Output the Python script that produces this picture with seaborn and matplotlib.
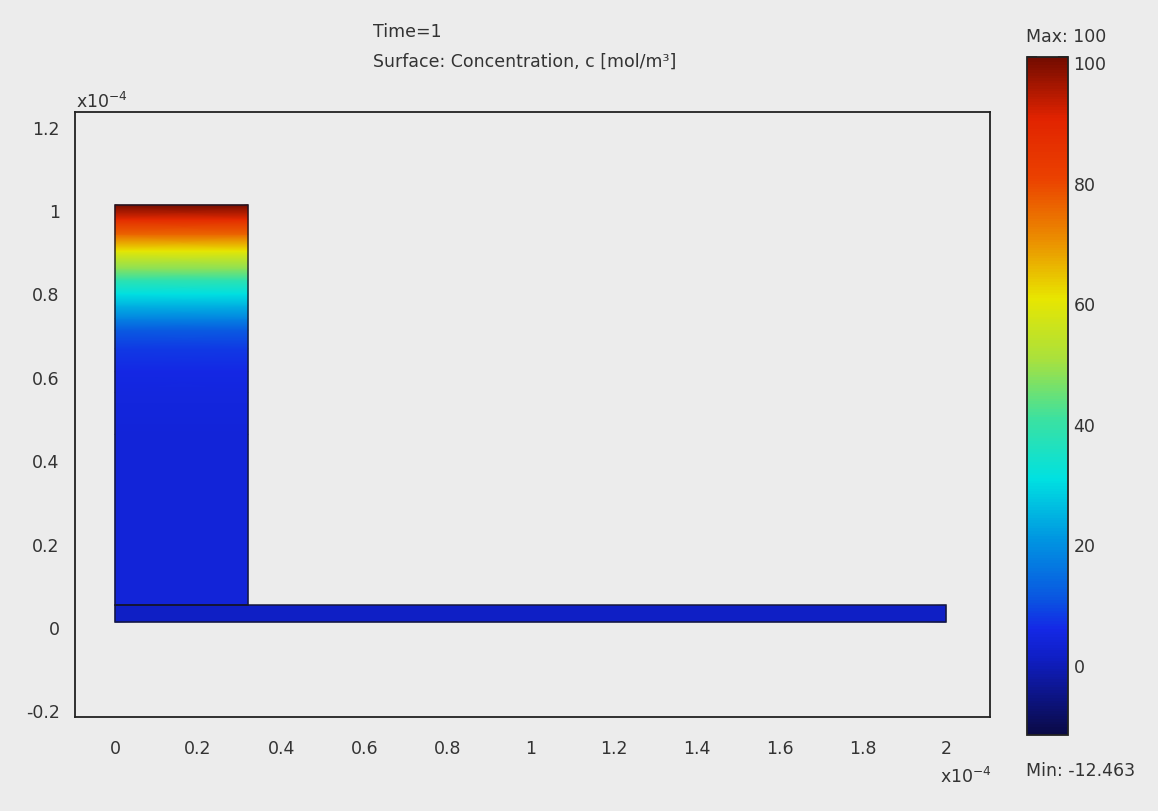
import numpy as np
import matplotlib
matplotlib.use("Agg")
import matplotlib.pyplot as plt
import matplotlib.transforms as mtransforms
from matplotlib.colors import Normalize, LinearSegmentedColormap
from matplotlib.patches import Rectangle
import seaborn as sns

# ---------------- data (lengths in units of 1e-4 m) ----------------
reservoir_x = [0.0, 0.32]
channel_x = [0.0, 2.0]
channel_y = [0.0, 0.04]
profile_y = [0.04, 0.45, 0.55, 0.60, 0.655, 0.70, 0.727, 0.76, 0.787,
             0.82, 0.847, 0.89, 0.93, 0.966, 1.0]
profile_c = [3.0, 3.0, 4.0, 5.0, 7.0, 11.0, 17.0, 24.0, 30.0,
             38.0, 47.0, 60.0, 75.0, 88.0, 100.0]
channel_c = [0.5, 0.5]
c_min, c_max = -12.463, 100.0
x_ticks = [0, 0.2, 0.4, 0.6, 0.8, 1, 1.2, 1.4, 1.6, 1.8, 2]
x_tick_labels = ["0", "0.2", "0.4", "0.6", "0.8", "1", "1.2", "1.4", "1.6", "1.8", "2"]
y_ticks = [-0.2, 0, 0.2, 0.4, 0.6, 0.8, 1, 1.2]
y_tick_labels = ["-0.2", "0", "0.2", "0.4", "0.6", "0.8", "1", "1.2"]
cbar_ticks = [0, 20, 40, 60, 80, 100]

# ---------------- style ----------------
sns.set_style("white")
plt.rcParams["font.family"] = ["DejaVu Sans"]
bg = "#ececec"
fs = 12.5
tc = "#333333"

# COMSOL-like jet colormap
cm_vals = [-12.463, 0, 5, 10, 20, 30, 40, 50, 60, 70, 80, 90, 100]
cm_cols = [(10, 10, 70), (15, 30, 195), (20, 40, 230), (10, 85, 225),
           (0, 150, 225), (0, 225, 225), (60, 225, 160), (170, 225, 60),
           (232, 230, 0), (235, 140, 0), (235, 65, 0), (225, 35, 0), (115, 12, 0)]
cm_pos = [(v - c_min) / (c_max - c_min) for v in cm_vals]
cmap = LinearSegmentedColormap.from_list(
    "comsol", list(zip(cm_pos, [tuple(c / 255 for c in col) for col in cm_cols])))
norm = Normalize(vmin=c_min, vmax=c_max)

fig = plt.figure(figsize=(11.58, 8.12), dpi=100, facecolor=bg)
ax = fig.add_axes([75 / 1158, 1 - 718 / 812, 915 / 1158, 605 / 812], facecolor=bg)

# reservoir (vertical gradient)
RX, RY = np.meshgrid(reservoir_x, profile_y)
RC = np.repeat(np.array(profile_c)[:, None], len(reservoir_x), axis=1)
ax.pcolormesh(RX, RY, RC, shading="gouraud", cmap=cmap, norm=norm)
# channel
CX, CY = np.meshgrid(channel_x, channel_y)
CC = np.repeat(np.array(channel_c)[:, None], len(channel_x), axis=1)
ax.pcolormesh(CX, CY, CC, shading="gouraud", cmap=cmap, norm=norm)

edge = (0.08, 0.08, 0.15, 0.8)
ax.add_patch(Rectangle((reservoir_x[0], channel_y[1]), reservoir_x[1] - reservoir_x[0],
                       profile_y[-1] - channel_y[1], fill=False, ec=edge, lw=1.2))
ax.add_patch(Rectangle((channel_x[0], channel_y[0]), channel_x[1] - channel_x[0],
                       channel_y[1] - channel_y[0], fill=False, ec=edge, lw=1.2))

ax.set_xlim(-0.0963, 2.106)
ax.set_ylim(-0.228, 1.223)
ax.set_xticks(x_ticks)
ax.set_xticklabels(x_tick_labels)
ax.set_yticks(y_ticks)
ax.set_yticklabels(y_tick_labels)
ax.tick_params(axis="both", length=0, labelsize=fs, colors=tc)
ax.tick_params(axis="x", pad=16)
ax.tick_params(axis="y", pad=11)
off = mtransforms.ScaledTranslation(0, -5 / 100, fig.dpi_scale_trans)
for lab in ax.get_yticklabels():
    lab.set_transform(lab.get_transform() + off)
for s in ax.spines.values():
    s.set_visible(True)
    s.set_color("#222222")
    s.set_linewidth(1.3)

# colorbar
cax = fig.add_axes([1027 / 1158, 1 - 736 / 812, 41 / 1158, 678 / 812])
sm = matplotlib.cm.ScalarMappable(norm=norm, cmap=cmap)
cb = fig.colorbar(sm, cax=cax, ticks=cbar_ticks)
cb.outline.set_edgecolor("#222222")
cb.outline.set_linewidth(1.3)
cax.tick_params(left=True, right=True, direction="in", length=7, width=1.3,
                color=(0.1, 0.05, 0.05, 0.8), labelleft=False, labelright=True,
                labelsize=fs, labelcolor=tc, pad=4)
for lab in cax.get_yticklabels():
    lab.set_transform(lab.get_transform() + off)

# texts
fig.text(373 / 1158, 1 - 32 / 812, "Time=1", fontsize=fs, color=tc,
         ha="left", va="center")
fig.text(373 / 1158, 1 - 62 / 812, "Surface: Concentration, c [mol/m³]", fontsize=fs,
         color=tc, ha="left", va="center")
fig.text(1026 / 1158, 1 - 37 / 812, f"Max: {c_max:g}", fontsize=fs, color=tc,
         ha="left", va="center")
fig.text(1026 / 1158, 1 - 771 / 812, f"Min: {c_min:g}", fontsize=fs, color=tc,
         ha="left", va="center")
fig.text(940 / 1158, 1 - 777 / 812, r"x10$^{\mathregular{-4}}$", fontsize=fs,
         color=tc, ha="left", va="center")
fig.text(76 / 1158, 1 - 102 / 812, r"x10$^{\mathregular{-4}}$", fontsize=fs,
         color=tc, ha="left", va="center")

fig.savefig("out.png", dpi=100, facecolor=bg)
